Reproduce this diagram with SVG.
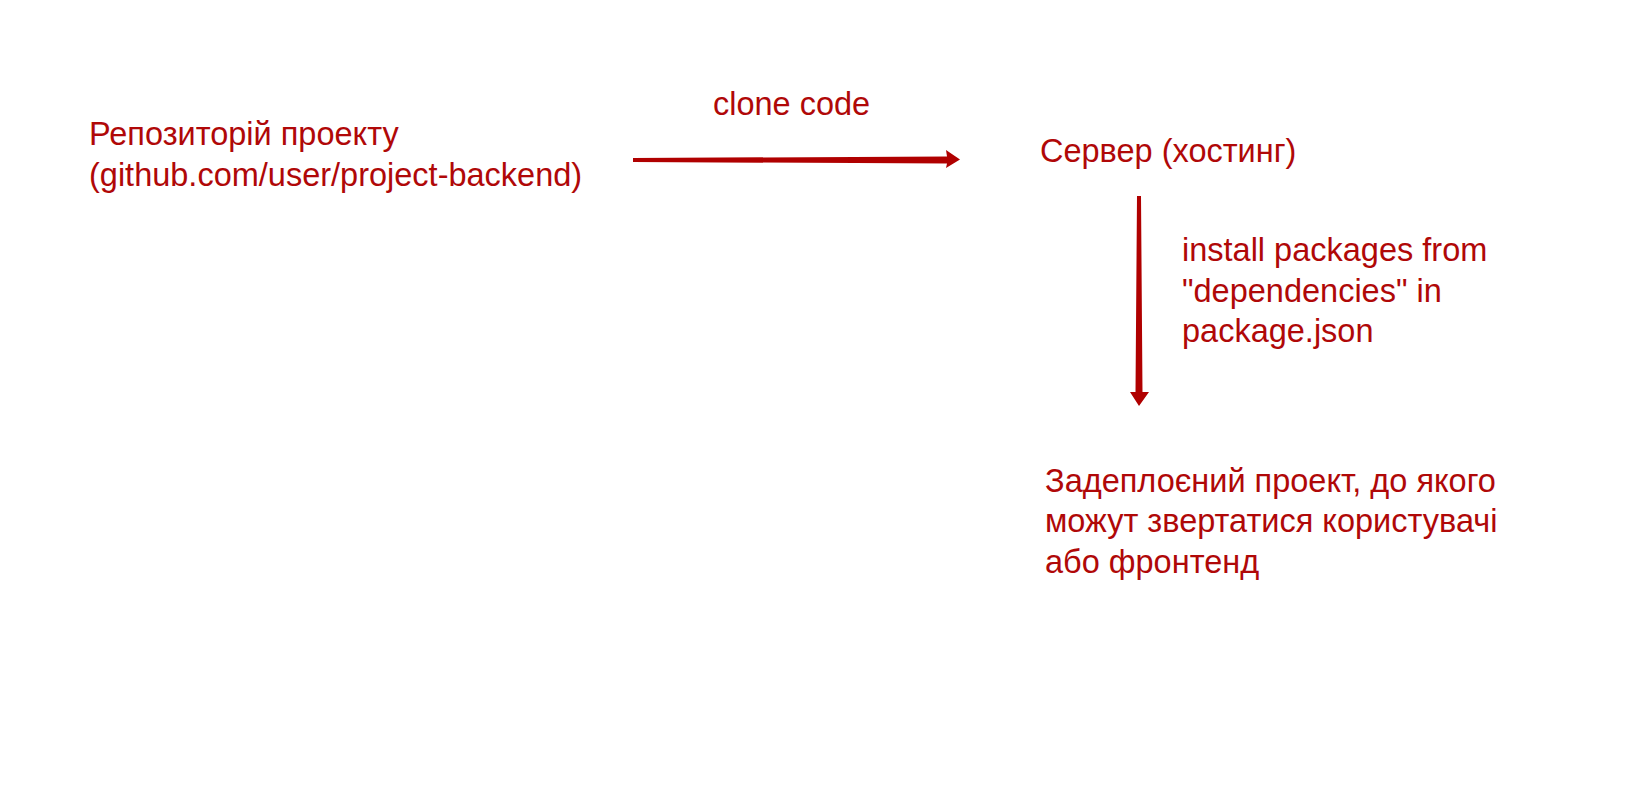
<svg xmlns="http://www.w3.org/2000/svg" width="1642" height="806" viewBox="0 0 1642 806">
<defs>
<style>
text{font-family:"Liberation Sans",Arial,sans-serif;font-size:32.5px;fill:#b00808}
.c{fill:#b00000;stroke:none}
</style>
</defs>
<rect width="1642" height="806" fill="#fff"/>
<g id="repo"><text x="89" y="145">Репозиторій проекту</text><text x="89" y="186">(github.com/user/project-backend)</text></g>
<g id="server"><text x="1040" y="162">Сервер (хостинг)</text></g>
<g id="deployed"><text x="1045" y="492">Задеплоєний проект, до якого</text><text x="1045" y="532">можут звертатися користувачі</text><text x="1045" y="573">або фронтенд</text></g>
<g id="connectors">
<path class="c" d="M633,158 L947,156.5 L946,150 L960,159.5 L946,168 L947,163.5 L633,162 Z"/>
<text x="713" y="115">clone code</text>
<path class="c" d="M1137,196 L1141,196 L1142.5,392 L1149,392 L1139,406 L1130,392 L1135.5,392 Z"/>
<text x="1182" y="261">install packages from</text><text x="1182" y="302">"dependencies" in</text><text x="1182" y="342">package.json</text>
</g>
</svg>
